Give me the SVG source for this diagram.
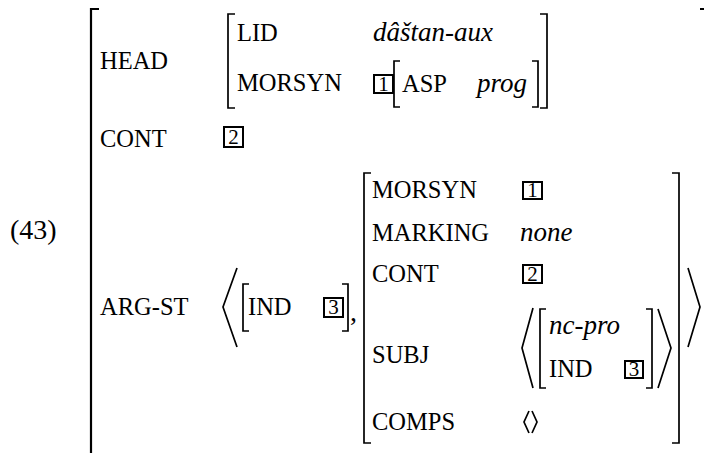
<svg xmlns="http://www.w3.org/2000/svg" width="704" height="453" viewBox="0 0 704 453">
<style>
text{font-family:"Liberation Serif","Times New Roman",serif;fill:#000}
.f{font-size:24.5px}
.v{font-size:27px;font-style:italic}
.n{font-size:28px}
.t{font-size:21px;text-anchor:middle}
.b{fill:none;stroke:#000;stroke-width:1.7}
.B{fill:none;stroke:#000;stroke-width:2.2}
.x{fill:#fff;stroke:#000;stroke-width:2}
</style>
<rect width="704" height="453" fill="#fff"/>
<text class="n" x="10" y="239">(43)</text>
<g id="outer">
<path class="B" d="M99,9 H91 V455 H97"/>
<path class="B" d="M700,9 H707 V460"/>
</g>
<g id="head">
<text class="f" x="100" y="69">HEAD</text>
<path class="b" d="M235,14 H228 V108 H235"/>
<path class="b" d="M540,14 H547 V108 H540"/>
<text class="f" x="237" y="41">LID</text>
<text class="v" x="373" y="41">dâštan-aux</text>
<text class="f" x="237" y="91">MORSYN</text>
<rect class="x" x="374" y="75" width="19" height="18"/>
<text class="t" x="383.5" y="91">1</text>
<path class="b" d="M400,61 H394 V107 H400"/>
<path class="b" d="M532,61 H538 V107 H532"/>
<text class="f" x="402" y="92">ASP</text>
<text class="v" x="477" y="92">prog</text>
</g>
<g id="cont">
<text class="f" x="100" y="147">CONT</text>
<rect class="x" x="224" y="127" width="19" height="20"/>
<text class="t" x="233.5" y="144">2</text>
</g>
<g id="argst">
<text class="f" x="100" y="315">ARG-ST</text>
<path class="b" d="M237,268 L223,307 L237,347"/>
<path class="b" d="M249,284 H243 V331 H249"/>
<text class="f" x="248" y="315">IND</text>
<rect class="x" x="324" y="298" width="19" height="19"/>
<text class="t" x="333.5" y="314">3</text>
<path class="b" d="M342,284 H348 V331 H342"/>
<text class="n" x="350" y="321">,</text>
<path class="b" d="M371,173 H364 V443 H371"/>
<path class="b" d="M672,173 H679 V443 H672"/>
<text class="f" x="372" y="198">MORSYN</text>
<rect class="x" x="523" y="182" width="19" height="17"/>
<text class="t" x="532.5" y="197">1</text>
<text class="f" x="372" y="241">MARKING</text>
<text class="v" x="520" y="241">none</text>
<text class="f" x="372" y="282">CONT</text>
<rect class="x" x="523" y="265" width="19" height="18"/>
<text class="t" x="532.5" y="281">2</text>
<text class="f" x="372" y="363">SUBJ</text>
<path class="b" d="M533,308 L522,348 L533,388"/>
<path class="b" d="M546,309 H540 V388 H546"/>
<text class="v" x="549" y="334">nc-pro</text>
<text class="f" x="549" y="377">IND</text>
<rect class="x" x="625" y="361" width="18" height="17"/>
<text class="t" x="634" y="376">3</text>
<path class="b" d="M646,309 H652 V388 H646"/>
<path class="b" d="M658,309 L671,348 L658,388"/>
<text class="f" x="372" y="430">COMPS</text>
<path class="b" d="M529,411 L524,422 L529,433"/>
<path class="b" d="M532,411 L537,422 L532,433"/>
<path class="b" d="M688,268 L700,307 L688,347"/>
</g>
</svg>
